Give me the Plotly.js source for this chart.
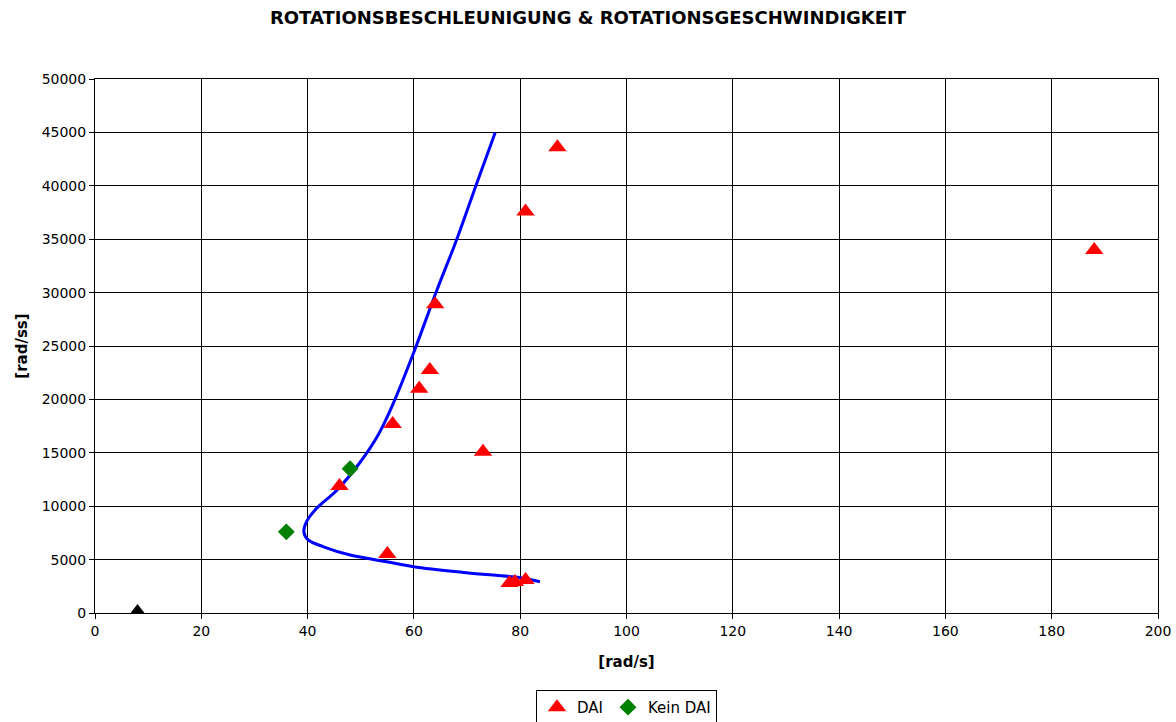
<!DOCTYPE html>
<html>
<head>
<meta charset="utf-8">
<script src="https://cdn.plot.ly/plotly-3.0.1.min.js"></script>
<style>html,body{margin:0;padding:0;background:#fff;}#chart{width:1176px;height:722px;}</style>
</head>
<body>
<div id="chart"></div>
<script>
// DAI (red triangles)
const daiX = [87, 81, 188, 64, 63, 61, 56, 73, 46, 55, 78, 79, 81];
const daiY = [43600, 37600, 34000, 28900, 22750, 21000, 17700, 15100, 11900, 5520, 2800, 2900, 3100];
// Kein DAI (green diamonds)
const keinX = [48, 36];
const keinY = [13500, 7600];
// Black triangle (no legend entry)
const blackX = [8];
const blackY = [100];
// Blue fitted curve
const curveX = [75.3, 71.8, 68.0, 64.3, 59.9, 56.1, 53.3, 49.7, 45.5, 41.7, 39.8, 39.3, 40.1, 43.0, 48.0, 54.9, 59.9, 69.9, 80.0, 83.7];
const curveY = [45000, 40200, 34900, 30200, 24300, 19600, 16700, 14000, 11500, 9800, 8550, 7600, 6840, 6200, 5430, 4800, 4340, 3770, 3300, 2930];

const font = "'DejaVu Sans', Arial, sans-serif";

const traces = [
  {x: curveX, y: curveY, mode: 'lines', type: 'scatter', line: {color: '#0000ff', width: 3, shape: 'spline'}, showlegend: false, hoverinfo: 'skip'},
  {x: daiX, y: daiY, mode: 'markers', type: 'scatter', name: 'DAI', marker: {symbol: 'triangle-up', size: 16, color: '#ff0000'}},
  {x: keinX, y: keinY, mode: 'markers', type: 'scatter', name: 'Kein DAI', marker: {symbol: 'diamond', size: 13, color: '#008000'}},
  {x: blackX, y: blackY, mode: 'markers', type: 'scatter', name: '', showlegend: false, marker: {symbol: 'triangle-up', size: 16, color: '#000000'}}
];

const axisCommon = {
  showgrid: true, gridcolor: '#000000', gridwidth: 1,
  showline: true, linecolor: '#000000', linewidth: 1, mirror: true,
  ticks: 'outside', ticklen: 5, tickcolor: '#000000',
  zeroline: false,
  tickfont: {family: font, size: 14, color: '#000000'}
};

const layout = {
  width: 1176, height: 722,
  margin: {l: 95, r: 18, t: 79, b: 109, autoexpand: false},
  paper_bgcolor: '#ffffff', plot_bgcolor: '#ffffff',
  font: {family: font, color: '#000000'},
  title: {text: '<b>ROTATIONSBESCHLEUNIGUNG & ROTATIONSGESCHWINDIGKEIT</b>', font: {family: font, size: 18, color: '#000000'}, x: 0.5, xanchor: 'center', y: 0.975, yanchor: 'middle'},
  xaxis: Object.assign({}, axisCommon, {range: [0, 200], dtick: 20, tickformat: 'd',
    title: {text: '<b>[rad/s]</b>', font: {family: font, size: 15, color: '#000000'}, standoff: 18}}),
  yaxis: Object.assign({}, axisCommon, {range: [0, 50000], dtick: 5000, tickformat: 'd',
    title: {text: '<b>[rad/ss]</b>', font: {family: font, size: 15, color: '#000000'}, standoff: 10}}),
  legend: {orientation: 'h', x: 0.5, xanchor: 'center', y: -0.144, yanchor: 'top',
    bordercolor: '#000000', borderwidth: 1, bgcolor: '#ffffff',
    font: {family: font, size: 15, color: '#000000'}, itemwidth: 30, tracegroupgap: 0},
  showlegend: true
};

Plotly.newPlot('chart', traces, layout, {displayModeBar: false, staticPlot: true});
</script>
</body>
</html>
